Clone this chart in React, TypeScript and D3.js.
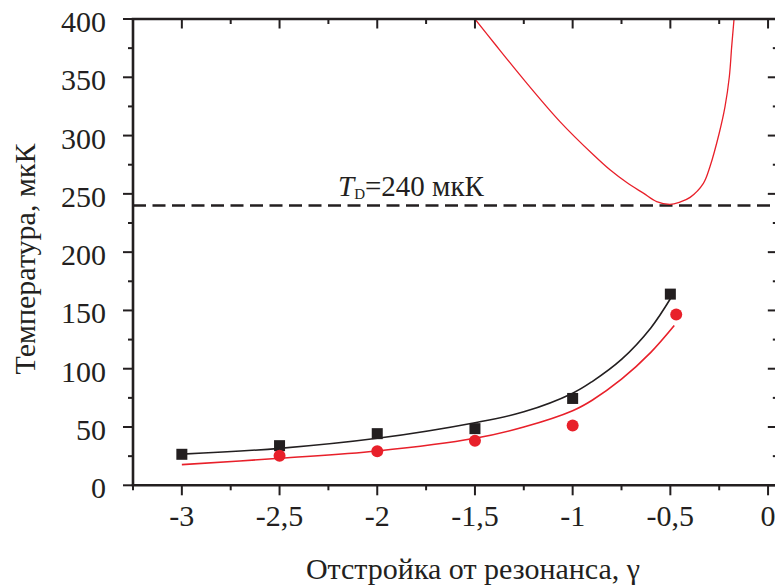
import React from "react";
import * as d3 from "d3";

// ---- data ----
const squareX = [-3, -2.5, -2, -1.5, -1, -0.5];
const squareT = [26.6, 34, 44.3, 48.6, 74.5, 164];

const circleX = [-2.5, -2, -1.5, -1, -0.47];
const circleT = [25.4, 29.2, 38.3, 51.2, 146.5];

const blackFitX = [-3, -2.5, -2, -1.5, -1.25, -1, -0.9, -0.75, -0.6, -0.5];
const blackFitT = [26.7, 31.7, 40.3, 53.7, 63, 79, 89, 108, 135, 160];

const redFitX = [-3, -2.5, -2, -1.5, -1.25, -1, -0.9, -0.75, -0.6, -0.48];
const redFitT = [17.7, 23.2, 29.4, 40.3, 50, 64, 73, 91, 114, 137];

const theoryX = [-1.5, -1.4, -1.25, -1.065, -0.894, -0.809, -0.723, -0.638, -0.57, -0.502, -0.451, -0.399, -0.331, -0.297, -0.25, -0.22, -0.198, -0.186, -0.174];
const theoryT = [400, 379, 348, 312, 283.5, 270.6, 259.7, 250.6, 243.4, 241, 243, 247, 259, 273.5, 302, 325, 350.7, 376.5, 400];

const dopplerT = 240;

const xMajorTicks = [-3, -2.5, -2, -1.5, -1, -0.5, 0];
const xTickLabels = ["-3", "-2,5", "-2", "-1,5", "-1", "-0,5", "0"];
const xMinorTicks = [-3.25, -2.75, -2.25, -1.75, -1.25, -0.75, -0.25];
const yMajorTicks = [0, 50, 100, 150, 200, 250, 300, 350, 400];
const yMinorTicks = [25, 75, 125, 175, 225, 275, 325, 375];

const xTitle = "Отстройка от резонанса, γ";
const yTitle = "Температура, мкК";

const RED = "#e8202a";
const BLACK = "#231f20";
const FONT = "Liberation Serif";

export default function App() {
  const W = 775, H = 585;
  const left = 133, top = 19, bottom = 485.3;
  const x = d3.scaleLinear().domain([-3.25, 0.05]).range([left, left + 3.3 * 195.4]);
  const y = d3.scaleLinear().domain([0, 400]).range([bottom, top]);
  const right = x(0.05);

  const line = d3
    .line<[number, number]>()
    .x((d) => x(d[0]))
    .y((d) => y(d[1]))
    .curve(d3.curveCatmullRom.alpha(0.5));

  const zip = (a: number[], b: number[]) => a.map((v, i) => [v, b[i]] as [number, number]);
  const ts = { fontFamily: FONT };

  return (
    <div style={{ position: "absolute", left: 0, top: 0 }}>
      <svg width={W} height={H} style={{ display: "block", background: "#fff", fontFamily: FONT }}>
        <defs>
          <clipPath id="plot">
            <rect x={left} y={top} width={right - left} height={bottom - top} />
          </clipPath>
        </defs>

        {/* dashed Doppler line */}
        <line x1={left} x2={right} y1={y(dopplerT)} y2={y(dopplerT)} stroke={BLACK} strokeWidth={2.6} strokeDasharray="13,6.5" />
        <text x={338} y={196} fontSize={29} fill={BLACK} style={ts}>
          <tspan fontStyle="italic">T</tspan>
          <tspan fontSize={15} dy={3}>D</tspan>
          <tspan dy={-3}>=240 мкК</tspan>
        </text>

        {/* curves */}
        <g clipPath="url(#plot)" fill="none">
          <path d={line(zip(theoryX, theoryT)) || ""} stroke={RED} strokeWidth={1.3} />
          <path d={line(zip(redFitX, redFitT)) || ""} stroke={RED} strokeWidth={1.6} />
          <path d={line(zip(blackFitX, blackFitT)) || ""} stroke={BLACK} strokeWidth={1.6} />
        </g>

        {/* markers */}
        {squareX.map((v, i) => (
          <rect key={"s" + i} x={x(v) - 5.5} y={y(squareT[i]) - 5.5} width={11} height={11} fill={BLACK} />
        ))}
        {circleX.map((v, i) => (
          <circle key={"c" + i} cx={x(v)} cy={y(circleT[i])} r={6} fill={RED} />
        ))}

        {/* frame */}
        <g stroke={BLACK} strokeWidth={2.6} fill="none">
          <line x1={left} x2={left} y1={top} y2={bottom} />
          <line x1={left - 1.3} x2={right + 2} y1={bottom} y2={bottom} />
          <line x1={left - 1.3} x2={right + 2} y1={top} y2={top} />
          <line x1={right} x2={right} y1={top} y2={bottom} />
        </g>

        {/* ticks */}
        <g stroke={BLACK} strokeWidth={2}>
          {yMajorTicks.map((t) => (
            <g key={"ym" + t}>
              <line x1={left - 10} x2={left} y1={y(t)} y2={y(t)} />
              <line x1={right - 10} x2={right} y1={y(t)} y2={y(t)} />
            </g>
          ))}
          {yMinorTicks.map((t) => (
            <g key={"yn" + t}>
              <line x1={left - 5} x2={left} y1={y(t)} y2={y(t)} />
              <line x1={right - 5} x2={right} y1={y(t)} y2={y(t)} />
            </g>
          ))}
          {xMajorTicks.map((t) => (
            <g key={"xm" + t}>
              <line x1={x(t)} x2={x(t)} y1={bottom} y2={bottom + 10} />
              <line x1={x(t)} x2={x(t)} y1={top} y2={top + 9.5} />
            </g>
          ))}
          {xMinorTicks.map((t) => (
            <g key={"xn" + t}>
              <line x1={x(t)} x2={x(t)} y1={bottom} y2={bottom + 5} />
              {t > -3.2 && <line x1={x(t)} x2={x(t)} y1={top} y2={top + 5} />}
            </g>
          ))}
        </g>

        {/* tick labels */}
        <g fill={BLACK}>
          {yMajorTicks.map((t) => (
            <text key={"yl" + t} x={106} y={y(t) + 13} textAnchor="end" fontSize={30} style={ts}>
              {t}
            </text>
          ))}
          {xMajorTicks.map((t, i) => (
            <text key={"xl" + t} x={x(t)} y={526} textAnchor="middle" fontSize={30} style={ts}>
              {xTickLabels[i]}
            </text>
          ))}
        </g>

        {/* titles */}
        <text x={473} y={579} fontSize={30} textAnchor="middle" fill={BLACK} style={ts}>
          {xTitle}
        </text>
        <text transform="translate(35,259) rotate(-90)" fontSize={30} textAnchor="middle" fill={BLACK} style={ts}>
          {yTitle}
        </text>
      </svg>
    </div>
  );
}
